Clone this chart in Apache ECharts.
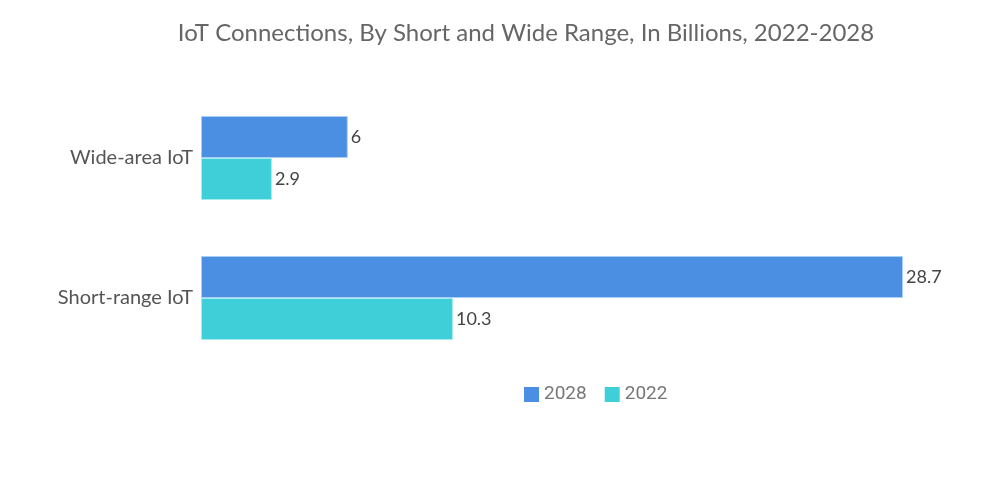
<!DOCTYPE html>
<html><head><meta charset="utf-8">
<script src="https://cdn.jsdelivr.net/npm/echarts@6/dist/echarts.min.js"></script>
<style>html,body{margin:0;padding:0;background:#fff}#c{width:1000px;height:504px}</style>
</head><body><div id="c"></div>
<script>
const categories = ["Short-range IoT", "Wide-area IoT"];
const values2028 = [28.7, 6];
const values2022 = [10.3, 2.9];
const seriesNames = ["2028", "2022"];

const chart = echarts.init(document.getElementById('c'));
const labelStyle = {show: true, position: 'right', distance: 3, color: '#444', fontSize: 18, fontFamily: 'Lato'};
chart.setOption({
  animation: false,
  title: {
    text: 'IoT Connections, By Short and Wide Range, In Billions, 2022-2028',
    left: 521, top: 16, textAlign: 'center',
    textStyle: {color: '#666', fontSize: 24, fontWeight: 'normal', fontFamily: 'Lato'}
  },
  legend: {
    data: seriesNames, left: 519, top: 380, itemWidth: 15, itemHeight: 15, itemGap: 18,
    icon: 'rect', itemStyle: {borderWidth: 0},
    textStyle: {color: '#777', fontSize: 19, fontFamily: 'Roboto'}
  },
  grid: {left: 201, top: 88, width: 702, height: 280},
  xAxis: {type: 'value', min: 0, max: 28.7, show: false},
  yAxis: {
    type: 'category', data: categories,
    axisLine: {show: false}, axisTick: {show: false},
    axisLabel: {color: '#555', fontSize: 20, fontFamily: 'Lato', margin: 8}
  },
  series: [
    {name: seriesNames[0], type: 'bar', data: values2028, barWidth: 42, barGap: '0%',
     itemStyle: {color: '#4a8fe2', borderColor: '#a9cdf5', borderWidth: 1}, label: labelStyle},
    {name: seriesNames[1], type: 'bar', data: values2022, barWidth: 42, barGap: '0%',
     itemStyle: {color: '#3ecfd9', borderColor: '#a5ecf0', borderWidth: 1}, label: labelStyle}
  ]
});
</script></body></html>
